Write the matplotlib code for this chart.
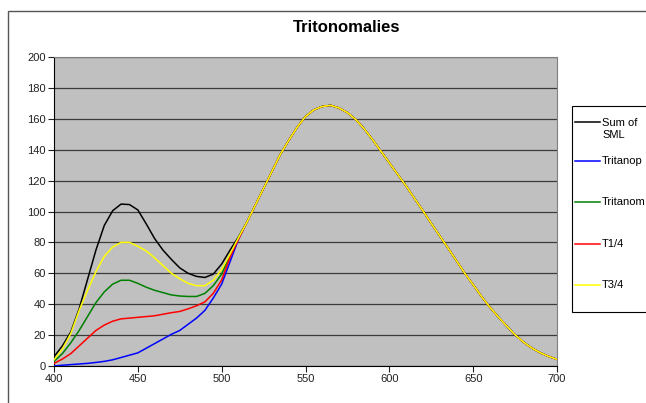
import matplotlib
matplotlib.use('Agg')
import matplotlib.pyplot as plt
from matplotlib.patches import Rectangle
from matplotlib.lines import Line2D
import numpy as np

plt.rcParams['font.family'] = ['Liberation Sans', 'DejaVu Sans']

# wavelengths (nm): 400..510 where the curves differ, then the shared part
wl_head = list(range(400, 515, 5))
wl_tail = list(range(515, 705, 5))

sum_sml_head = [6, 13, 22, 37, 56, 75, 91, 100.5, 104.8, 104.5, 101, 92, 82.5,
                75, 69, 63.5, 60, 58, 57.3, 59.5, 66, 75, 83.5]
tritanop_head = [0, 0.5, 0.9, 1.3, 1.7, 2.3, 3, 4, 5.5, 7, 8.5, 11.5, 14.5,
                 17.5, 20.5, 23, 27, 31, 36, 44, 53, 67.5, 82]
tritanom_head = [3, 8, 15, 23, 32, 41, 48, 53, 55.5, 55.5, 53.5, 51, 49,
                 47.5, 46, 45.3, 45, 45, 47, 52, 59.5, 72, 83]
t14_head = [1.7, 4.5, 8, 13, 18, 23, 26.5, 29, 30.5, 31, 31.5, 32, 32.5,
            33.5, 34.5, 35.3, 37, 39, 41.5, 47, 55.7, 70.5, 82]
t34_head = [4, 11, 21, 36, 49, 61, 71, 77, 80, 80, 77.5, 74.5, 70,
            65, 60, 56.5, 53.5, 52, 52, 55.5, 62.5, 72.5, 83]

shared_tail = [93, 104, 115, 126, 137, 146, 154.5, 161.5, 165.8, 168, 168.7,
               167, 164, 159.5, 153.5, 146.5, 139, 131.5, 124, 116.5, 108.5,
               100.5, 92.3, 84.3, 76.3, 68.2, 60, 52.6, 45, 38, 31.8, 25.8,
               20.2, 15.5, 11.6, 8.6, 6.2, 4.3]

labels = ['Sum of\nSML', 'Tritanop', 'Tritanom', 'T1/4', 'T3/4']
colors = ['#000000', '#0000FF', '#008000', '#FF0000', '#FFFF00']
heads = [sum_sml_head, tritanop_head, tritanom_head, t14_head, t34_head]

W, H = 646, 403
fig = plt.figure(figsize=(W / 100, H / 100), dpi=100)
fig.patch.set_facecolor('white')

# chart area border (cut at right/bottom like the screenshot)
fig.patches.append(Rectangle((8 / W, -0.2), 1.2, 0.2 + (H - 11) / H,
                             transform=fig.transFigure, fill=False,
                             edgecolor='#555555', linewidth=1.0))

ax = fig.add_axes([54 / W, (H - 366) / H, (557 - 54) / W, (366 - 57) / H])
ax.set_facecolor('#C0C0C0')

wl = np.array(wl_head + wl_tail)
for head, c in zip(heads, colors):
    ax.plot(wl, head + shared_tail, color=c, linewidth=1.1, zorder=3)

ax.set_xlim(400, 700)
ax.set_ylim(0, 200)
ax.set_xticks(range(400, 701, 50))
ax.set_yticks(range(0, 201, 20))
ax.yaxis.grid(True, color='#3a3a3a', linewidth=0.9)
ax.set_axisbelow(True)
ax.tick_params(axis='both', direction='out', length=4, width=0.8,
               labelsize=8, colors='#222222', pad=2)
for s in ['top', 'right']:
    ax.spines[s].set_color('#808080')
for s in ['left', 'bottom']:
    ax.spines[s].set_color('#000000')
    ax.spines[s].set_linewidth(0.8)

fig.text(347 / W, (H - 28) / H, 'Tritonomalies', ha='center', va='center',
         fontsize=12, fontweight='bold')

# legend box
fig.patches.append(Rectangle((572 / W, (H - 312) / H), 0.2, (312 - 106) / H,
                             transform=fig.transFigure, facecolor='white',
                             edgecolor='#000000', linewidth=0.8))
legend_y = [122, 161, 202, 244, 285]
for lab, c, y in zip(labels, colors, legend_y):
    fig.lines.append(Line2D([575 / W, 600 / W], [(H - y) / H, (H - y) / H],
                            transform=fig.transFigure, color=c, linewidth=1.1))
    fig.text(602 / W, (H - y) / H + (0.0 if '\n' not in lab else -0.0173),
             lab, ha='left', va='center', fontsize=8, linespacing=1.15)

fig.savefig('out.png', dpi=100)
